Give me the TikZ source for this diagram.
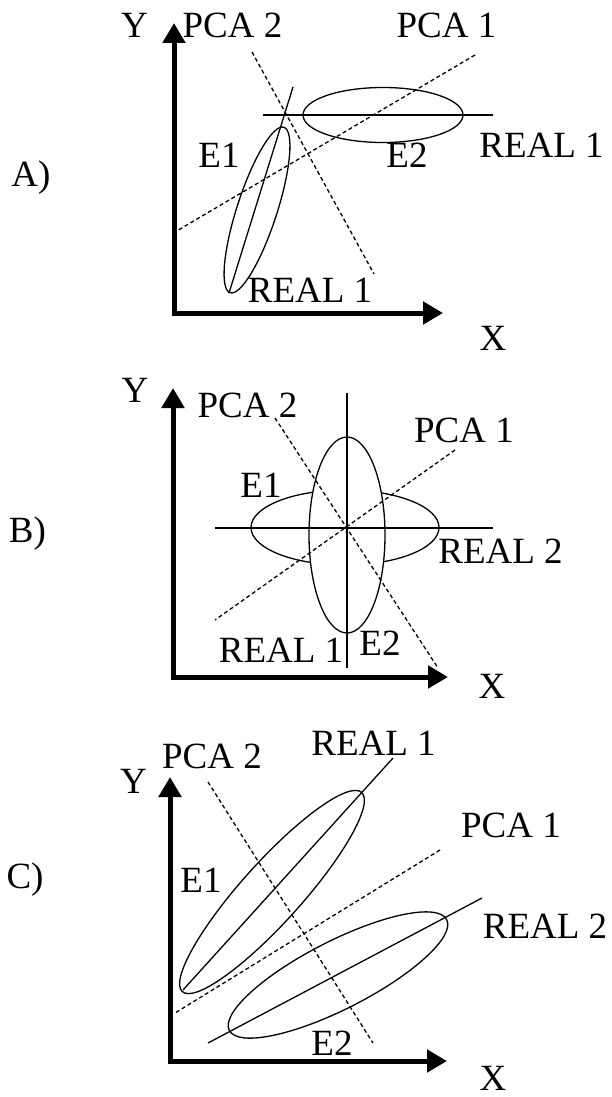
\documentclass[tikz,border=0pt]{standalone}
\usepackage{fontspec}
\setmainfont{Liberation Serif}
\usetikzlibrary{arrows.meta}

\begin{document}
\begin{tikzpicture}[x=0.5pt,y=-0.5pt,
  axis/.style={line width=2.5pt,line join=miter,{Triangle[length=10pt,width=11pt]}-{Triangle[length=10pt,width=11pt]}},
  real/.style={line width=0.65pt},
  pca/.style={line width=0.65pt,dash pattern=on 2pt off 1.4pt},
  lbl/.style={inner sep=0pt,anchor=base,font=\fontsize{18.5}{20}\selectfont}]
\useasboundingbox (0,0) rectangle (611,1097);
%% A)
\draw[axis] (174,23) -- (174,313) -- (443,313);
\draw[real] (383,115) ellipse [x radius=80,y radius=27.5];
\draw[real,rotate around={72:(257,210)}] (257,210) ellipse [x radius=87,y radius=20];
\draw[real] (263,115) -- (493,115);
\draw[real] (293,87) -- (229,293);
\draw[pca] (252,52) -- (374,274);
\draw[pca] (475,55) -- (175,232);
\node[lbl] (lblA) at (31,186) {A)};
\node[lbl] (yA) at (134.5,38) {Y};
\node[lbl] (xA) at (493,350) {X};
\node[lbl] (pcaTwoA) at (232.5,38) {PCA 2};
\node[lbl] (pcaOneA) at (446.5,38) {PCA 1};
\node[lbl] (eOneA) at (219,168) {E1};
\node[lbl] (eTwoA) at (407,168) {E2};
\node[lbl] (realA) at (541.5,157) {REAL 1};
\node[lbl] (realB) at (310,302) {REAL 1};
%% B)
\draw[axis] (173,388) -- (173,677) -- (448,677);
\draw[real] (345,527.5) ellipse [x radius=94,y radius=37.5];
\draw[real,fill=white] (347,535) ellipse [x radius=38,y radius=98];
\draw[real] (347,393) -- (347,668);
\draw[real] (215,528) -- (493,528);
\draw[pca] (275,418) -- (438,668);
\draw[pca] (455,450) -- (215,620);
\node[lbl] (lblB) at (27.5,542) {B)};
\node[lbl] (yB) at (135,402) {Y};
\node[lbl] (xB) at (492,698) {X};
\node[lbl] (pcaTwoB) at (247.5,417) {PCA 2};
\node[lbl] (pcaOneB) at (464,442) {PCA 1};
\node[lbl] (eOneB) at (261,497) {E1};
\node[lbl] (eTwoB) at (380,655) {E2};
\node[lbl] (realTwoB) at (500.5,563) {REAL 2};
\node[lbl] (realOneB) at (281,662) {REAL 1};
%% C)
\draw[axis] (170,777) -- (170,1061) -- (447,1061);
\draw[real,rotate around={48:(272,892)}] (272,892) ellipse [x radius=134,y radius=30];
\draw[real,rotate around={27:(338,975)}] (338,975) ellipse [x radius=122,y radius=34];
\draw[real] (393,758) -- (183,990);
\draw[real] (482,898) -- (208,1043);
\draw[pca] (208,782) -- (373,1043);
\draw[pca] (440,850) -- (175,1013);
\node[lbl] (lblC) at (25,888) {C)};
\node[lbl] (yC) at (133.5,793) {Y};
\node[lbl] (xC) at (493,1090) {X};
\node[lbl] (pcaTwoC) at (212,768) {PCA 2};
\node[lbl] (pcaOneC) at (511,837) {PCA 1};
\node[lbl] (realOneC) at (373.5,755) {REAL 1};
\node[lbl] (realTwoC) at (545,938) {REAL 2};
\node[lbl] (eOneC) at (201,892) {E1};
\node[lbl] (eTwoC) at (332,1055) {E2};
\end{tikzpicture}
\end{document}
